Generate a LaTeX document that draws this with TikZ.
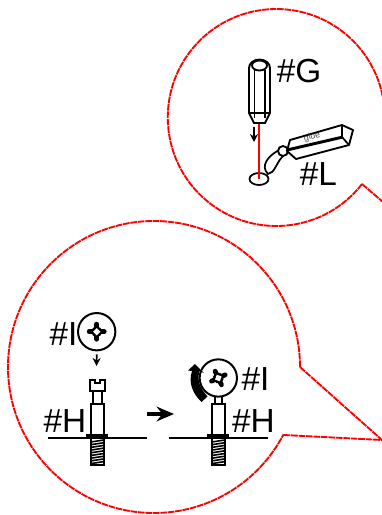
\documentclass[tikz,border=0pt]{standalone}
\usepackage{fontspec}
\setmainfont{Liberation Sans}
\usetikzlibrary{arrows.meta}
\tikzset{
  callout/.style={red,line width=1.4pt,dash pattern=on 5pt off 0.6pt,line join=miter},
  part/.style={black,line width=1.4pt,fill=white},
  tag/.style={inner sep=0pt,font=\fontsize{25}{25}\selectfont},
  hole/.style={draw,circle,line width=1.5pt,fill=white,inner sep=0pt,minimum size=27pt},
  downarrow/.style={-{Stealth[length=6pt,width=6pt]},line width=1.3pt},
}
% screw standing on the line, xx = centre
\newcommand{\screwshaft}[1]{
  \draw[part] (#1-6.3,404) rectangle (#1+6.3,436);
  \draw[part,fill=black] (#1-10,435) rectangle (#1+10,438);
  \draw[part] (#1-6.5,438) rectangle (#1+6.5,465);
  \foreach \yy in {441,443.7,...,464}
    \draw[line width=1.2pt] (#1-6.5,\yy+1) -- (#1+6.5,\yy-1);
}
% cross recess of the screw head
\newcommand{\recess}[2]{
  \begin{scope}[shift={(#1)},rotate=#2]
    \draw[line width=3.6pt,line cap=round] (-7.5,0) -- (7.5,0) (0,-7.5) -- (0,7.5);
    \fill (0,0) circle (5.4);
    \fill[white] (-3.6,0) -- (0,-3.6) -- (3.6,0) -- (0,3.6) -- cycle;
  \end{scope}
}
\begin{document}
\begin{tikzpicture}[x=0.75pt,y=-0.75pt]
\useasboundingbox (0,0) rectangle (382,515);
\clip (0,0) rectangle (382,515);
% callouts
\draw[callout] (362,184) arc[start angle=37.8,end angle=360,radius=108.5];
\draw[callout] (362,184) -- (390,208);
\draw[callout] (300,367) arc[start angle=0,end angle=-332.6,radius=146];
\draw[callout] (300,367) -- (382,440) -- (284,435);
% screwdriver
\coordinate (tipG) at (259,124);
\coordinate (spot) at (259,179);
\draw[line width=1.3pt] (259,179) ellipse (9.5 and 6);
\draw[red,line width=1.4pt] (tipG) -- (spot);
\draw[part] (249,68) -- (249,113) -- (254,123) -- (265,123) -- (270,113) -- (270,68) arc[start angle=0,end angle=-180,x radius=10.5,y radius=8.5];
\draw[part] (259.5,65.5) ellipse (7.5 and 5);
\draw[line width=1.3pt] (254.5,70) -- (254.5,118) (265,70) -- (265,118) (250,113) -- (270,113);
\coordinate (arrowG) at (254,127);
\coordinate (arrowGend) at (254,142);
\draw[downarrow] (arrowG) -- (arrowGend);
% glue tube
\draw[line width=1.3pt] (279,150) .. controls (268,156) and (260,166) .. (268,174) .. controls (275,173) and (276,163) .. (283,156);
\draw[part] (283,151) circle (5);
\draw[part,line join=round] (290,140) -- (342,125) -- (353,130) -- (349,145) -- (296,159) -- (287,151) -- cycle;
\draw[line width=2.2pt] (287,150) -- (343,137);
\draw[line width=1.3pt] (342,125) -- (342,137) -- (349,145);
\node[inner sep=0pt,rotate=14,text=black!70,font=\fontsize{6.5}{7}\selectfont] (glue) at (312,137) {glue};
% labels
\node[tag] (tagG) at (299,71) {\#G};
\node[tag] (tagL) at (318.5,174) {\#L};
\node[tag] (tagIa) at (63.5,334) {\#I};
\node[tag] (tagHa) at (65,421) {\#H};
\node[tag] (tagIb) at (255.5,379) {\#I};
\node[tag] (tagHb) at (253.5,421) {\#H};
% screw before
\draw[line width=1.4pt] (48,438) -- (147,438);
\draw[part] (93,391) rectangle (102,404);
\draw[part] (90,391) -- (90,380) -- (95,380) -- (95,383) -- (100,383) -- (100,380) -- (105,380) -- (105,391) -- cycle;
\screwshaft{97.3}
\node[hole,minimum size=28pt] (headI) at (96.7,331.7) {};
\recess{96.7,331.7}{0}
\coordinate (dropI) at (96.5,366);
\draw[downarrow] (headI.south) ++(0,3) -- (dropI);
% arrow between the steps
\coordinate (stepa) at (147,414);
\coordinate (stepb) at (174,414);
\draw[-{Stealth[length=13pt,width=11pt]},line width=2.8pt] (stepa) -- (stepb);
% screw after
\draw[line width=1.4pt] (169,438) -- (268,438);
\draw[part] (215,394) rectangle (222,404);
\screwshaft{218.3}
\node[hole,minimum size=28pt] (headIb) at (218.3,378) {};
\recess{218.3,378}{25}
% turning arrow
\fill (201.5,402) -- (207.5,396.5) .. controls (201,389) and (196.5,382) .. (199.5,371)
  -- (204,373) -- (195,364) -- (188,370.5) -- (192,371) .. controls (188,383) and (193,394) .. cycle;
\end{tikzpicture}
\end{document}
